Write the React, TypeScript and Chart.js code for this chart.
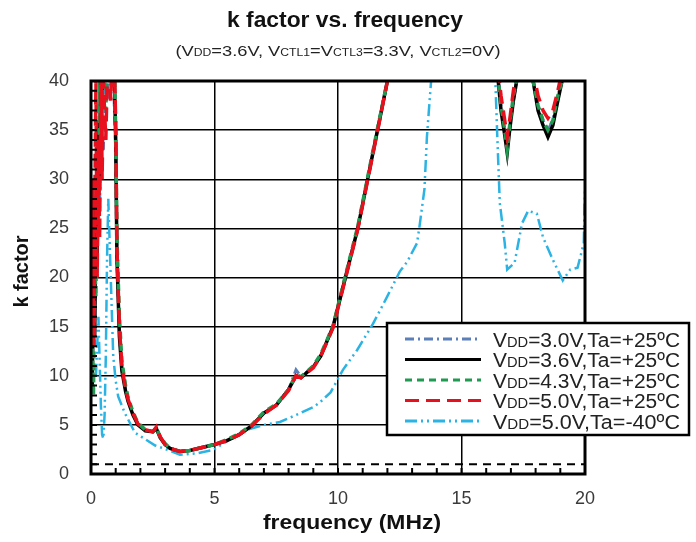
import React, { useEffect, useRef } from "react";
import { Chart, registerables } from "chart.js";
Chart.register(...registerables);

const FONT = "'Liberation Sans', Arial, sans-serif";

const xTickStep = 5;
const yTickStep = 5;

// VDD=3.0V, Ta=+25C
const f30 = [0.05, 0.1, 0.15, 0.2, 0.25, 0.3, 0.35, 0.4, 0.5, 0.6, 0.7, 0.8, 0.9, 1.0, 1.05, 1.15, 1.25, 1.4, 1.5, 1.7, 1.9, 2.2, 2.5, 2.65, 2.8, 3.0, 3.2, 3.6, 4.0, 4.5, 5.0, 5.5, 6.0, 6.5, 7.0, 7.5, 8.0, 8.3, 8.5, 9.0, 9.3, 9.55, 9.8, 10.3, 10.8, 11.2, 11.6, 12.0, 12.3, 14.5, 16.45, 16.6, 16.75, 16.85, 16.95, 17.1, 17.3, 17.6, 17.9, 18.1, 18.3, 18.5, 18.7, 18.9, 19.07, 19.4];
const k30 = [12, 24, 16, 30, 20, 35, 27, 42, 33, 45, 38, 46, 41, 33, 22, 14.5, 10.8, 8.6, 7.5, 6.1, 5.1, 4.5, 4.3, 4.6, 3.8, 3.0, 2.6, 2.3, 2.4, 2.7, 3.0, 3.4, 4.0, 4.9, 6.2, 7.0, 8.6, 10.6, 9.9, 10.9, 12, 13.5, 15, 20, 25, 30, 35, 40, 44, 90, 41, 37.5, 35, 33.5, 35.5, 38, 41, 46, 40, 37.5, 36, 35, 36, 38.5, 40, 46];

// VDD=3.6V, Ta=+25C
const f36 = [0.05, 0.1, 0.15, 0.2, 0.25, 0.3, 0.35, 0.4, 0.45, 0.5, 0.6, 0.7, 0.8, 0.9, 1.0, 1.05, 1.15, 1.25, 1.4, 1.5, 1.7, 1.9, 2.2, 2.5, 2.65, 2.8, 3.0, 3.2, 3.6, 4.0, 4.5, 5.0, 5.5, 6.0, 6.5, 7.0, 7.5, 8.0, 8.3, 8.5, 9.0, 9.3, 9.55, 9.8, 10.3, 10.8, 11.2, 11.6, 12.0, 12.3, 14.5, 16.45, 16.6, 16.75, 16.85, 16.95, 17.1, 17.3, 17.6, 17.9, 18.1, 18.3, 18.5, 18.7, 18.9, 19.07, 19.4];
const k36 = [9, 20, 14, 28, 22, 36, 30, 44, 38, 47, 40, 48, 44, 46, 34, 22, 14, 10.5, 8.4, 7.4, 6, 5, 4.4, 4.3, 4.6, 3.7, 3.0, 2.6, 2.3, 2.4, 2.7, 3.0, 3.4, 4.0, 4.9, 6.2, 7.0, 8.6, 10.0, 9.8, 10.9, 12, 13.5, 15, 20, 25, 30, 35, 40, 44, 90, 41, 37, 34.5, 32.7, 35, 38, 41, 46, 40, 37, 35.5, 34.3, 35.5, 38, 40, 46];

// VDD=4.3V, Ta=+25C
const f43 = [0.05, 0.1, 0.15, 0.2, 0.25, 0.3, 0.35, 0.4, 0.5, 0.6, 0.7, 0.8, 0.9, 1.0, 1.05, 1.15, 1.25, 1.4, 1.5, 1.7, 1.9, 2.2, 2.5, 2.65, 2.8, 3.0, 3.2, 3.6, 4.0, 4.5, 5.0, 5.5, 6.0, 6.5, 7.0, 7.5, 8.0, 8.3, 8.5, 9.0, 9.3, 9.55, 9.8, 10.3, 10.8, 11.2, 11.6, 12.0, 12.3, 14.5, 16.45, 16.6, 16.75, 16.85, 16.95, 17.1, 17.3, 17.6, 17.9, 18.1, 18.3, 18.5, 18.7, 18.9, 19.07, 19.4];
const k43 = [14, 8, 22, 18, 32, 26, 40, 34, 44, 37, 46, 40, 47, 35, 24, 16, 11.5, 9, 7.8, 6.3, 5.2, 4.5, 4.3, 4.7, 3.8, 3.1, 2.6, 2.3, 2.4, 2.7, 3.0, 3.5, 4.1, 5.0, 6.3, 7.1, 8.6, 10.1, 9.9, 11.0, 12.2, 13.6, 15.1, 20.2, 25.2, 30.2, 35.2, 40, 44, 90, 41, 37.5, 35, 33, 35.5, 38.5, 41, 46, 40, 37.5, 36, 35, 36, 38.5, 40, 46];

// VDD=5.0V, Ta=+25C
const f50 = [0.05, 0.08, 0.12, 0.15, 0.2, 0.25, 0.3, 0.35, 0.4, 0.45, 0.5, 0.6, 0.7, 0.8, 0.9, 1.0, 1.05, 1.15, 1.25, 1.4, 1.5, 1.7, 1.9, 2.2, 2.5, 2.65, 2.8, 3.0, 3.2, 3.6, 4.0, 4.5, 5.0, 5.5, 6.0, 6.5, 7.0, 7.5, 8.0, 8.3, 8.5, 9.0, 9.3, 9.55, 9.8, 10.3, 10.8, 11.2, 11.6, 12.0, 12.3, 14.5, 16.45, 16.6, 16.75, 16.85, 16.95, 17.1, 17.3, 17.6, 17.9, 18.1, 18.3, 18.5, 18.7, 18.9, 19.07, 19.4];
const k50 = [16, 30, 13, 26, 40, 20, 34, 24, 44, 30, 40, 34, 45, 38, 46, 36, 23, 15, 11, 8.6, 7.6, 6.2, 5.1, 4.5, 4.3, 4.8, 3.8, 3.0, 2.6, 2.3, 2.4, 2.7, 3.0, 3.4, 4.0, 4.9, 6.1, 7.0, 8.5, 10.0, 9.8, 10.8, 12, 13.4, 14.9, 19.9, 24.9, 29.9, 34.9, 40, 44, 90, 42, 38.5, 36, 34.3, 36, 39, 42, 46, 41, 38.5, 37, 36.2, 37, 39, 41, 46];

// VDD=5.0V, Ta=-40C
const fM40 = [0.2, 0.3, 0.4, 0.45, 0.5, 0.55, 0.6, 0.65, 0.7, 0.8, 0.9, 1.0, 1.1, 1.37, 1.78, 2.1, 2.6, 3.1, 3.6, 4.3, 4.95, 5.6, 6.3, 7.0, 7.65, 8.3, 9.0, 9.27, 9.7, 10.2, 10.77, 11.42, 11.98, 12.5, 12.8, 13.2, 13.3, 13.5, 13.6, 13.7, 13.8, 15.0, 16.3, 16.45, 16.55, 16.75, 16.85, 17.15, 17.45, 17.7, 18.05, 18.3, 18.7, 19.1, 19.4, 19.7, 19.95, 20.0];
const kM40 = [10, 16, 7, 4, 3.6, 6, 12, 22, 28, 20, 12, 9.5, 7.9, 6.2, 4.2, 3.7, 2.9, 2.45, 1.95, 2.1, 2.45, 3.5, 4.5, 5.0, 5.3, 6.0, 6.8, 7.3, 8.3, 10.6, 12.6, 15.3, 18, 20.6, 21.6, 23.5, 25.2, 29, 34.3, 37.7, 41, 80, 45, 34.3, 27.6, 23.5, 20.8, 21.5, 25.5, 26.8, 26.5, 24.1, 21.8, 19.7, 20.8, 21, 23.5, 29];

// reference k = 1
const fRef = [0, 20];
const kRef = [1, 1];

const seriesNames = ["=3.0V,Ta=+25ºC", "=3.6V,Ta=+25ºC", "=4.3V,Ta=+25ºC", "=5.0V,Ta=+25ºC", "=5.0V,Ta=-40ºC"];
const seriesColors = ["#5b7fb8", "#000000", "#1f9a50", "#e8101c", "#2bb3e3"];
const seriesDashes = [[9, 4, 2, 4], [], [7, 5], [14, 7], [12, 4, 2, 4, 2, 4]];
const seriesWidths = [3, 3.5, 3.5, 3.5, 2.5];
const seriesF = [f30, f36, f43, f50, fM40];
const seriesK = [k30, k36, k43, k50, kM40];
const drawOrder = [3, 2, 1, 0, 4];

function pts(fs: number[], ks: number[]) {
  return fs.map((f, i) => ({ x: f, y: ks[i] }));
}

function drawRich(ctx: CanvasRenderingContext2D, parts: [string, number][], x: number, y: number, align: string, weight: string, target?: number) {
  const widths = parts.map(([t, s]) => {
    ctx.font = `${weight} ${s}px ${FONT}`;
    return ctx.measureText(t).width;
  });
  const total = widths.reduce((a, b) => a + b, 0);
  const sx = target ? target / total : 1;
  ctx.save();
  ctx.translate(x, y);
  ctx.scale(sx, 1);
  let cx = align === "center" ? -total / 2 : 0;
  ctx.textAlign = "left";
  ctx.textBaseline = "alphabetic";
  parts.forEach(([t, s], i) => {
    ctx.font = `${weight} ${s}px ${FONT}`;
    ctx.fillText(t, cx, 0);
    cx += widths[i];
  });
  ctx.restore();
}

const decor = {
  id: "decor",
  afterDraw(chart: any) {
    const { ctx, chartArea: a, scales } = chart;
    const xs = scales.x, ys = scales.y;
    ctx.save();
    ctx.strokeStyle = "#000";
    ctx.setLineDash([]);
    ctx.lineWidth = 2;
    ctx.beginPath();
    for (let v = 1; v < 20; v++) {
      const px = xs.getPixelForValue(v);
      ctx.moveTo(px, a.bottom);
      ctx.lineTo(px, a.bottom - 6);
    }
    for (let v = 1; v < 40; v++) {
      const py = ys.getPixelForValue(v);
      ctx.moveTo(a.left, py);
      ctx.lineTo(a.left + 6, py);
    }
    ctx.stroke();
    ctx.lineWidth = 3;
    ctx.strokeRect(a.left, a.top, a.right - a.left, a.bottom - a.top);

    // legend
    const lx = 387, ly = 323, lw = 302, lh = 112;
    ctx.fillStyle = "#fff";
    ctx.fillRect(lx, ly, lw, lh);
    ctx.lineWidth = 2.5;
    ctx.strokeRect(lx, ly, lw, lh);
    for (let i = 0; i < 5; i++) {
      const yy = 339 + i * 20.5;
      ctx.save();
      ctx.strokeStyle = seriesColors[i];
      ctx.lineWidth = 3;
      ctx.setLineDash(seriesDashes[i]);
      ctx.beginPath();
      ctx.moveTo(405, yy);
      ctx.lineTo(481, yy);
      ctx.stroke();
      ctx.restore();
      ctx.fillStyle = "#222";
      drawRich(ctx, [["V", 20], ["DD", 14], [seriesNames[i], 20]], 493, yy + 7.5, "left", "normal", 187);
    }

    // titles
    const cxp = (a.left + a.right) / 2;
    ctx.fillStyle = "#111";
    drawRich(ctx, [["k factor vs. frequency", 22]], cxp + 7, 27, "center", "bold", 236);
    ctx.fillStyle = "#222";
    drawRich(ctx, [["(V", 15], ["DD", 10], ["=3.6V, V", 15], ["CTL1", 10], ["=V", 15], ["CTL3", 10], ["=3.3V, V", 15], ["CTL2", 10], ["=0V)", 15]], cxp, 56, "center", "normal", 325);
    ctx.fillStyle = "#111";
    drawRich(ctx, [["frequency (MHz)", 20]], cxp + 14, 529, "center", "bold", 178);
    ctx.save();
    ctx.translate(28, (a.top + a.bottom) / 2 - 6);
    ctx.rotate(-Math.PI / 2);
    drawRich(ctx, [["k factor", 20]], 0, 0, "center", "bold", 72);
    ctx.restore();
    ctx.restore();
  },
};

export default function App() {
  const ref = useRef<HTMLCanvasElement | null>(null);
  useEffect(() => {
    document.body.style.margin = "0";
    const datasets: any[] = seriesNames.map((n, i) => ({
      label: "VDD" + n,
      data: pts(seriesF[i], seriesK[i]),
      borderColor: seriesColors[i],
      borderDash: seriesDashes[i],
      borderWidth: seriesWidths[i],
      pointRadius: 0,
      tension: 0,
      fill: false,
      order: drawOrder[i],
    }));
    datasets.push({
      label: "ref",
      data: pts(fRef, kRef),
      borderColor: "#000",
      borderDash: [8, 6],
      borderWidth: 2,
      pointRadius: 0,
      order: 5,
    });
    const chart = new Chart(ref.current as HTMLCanvasElement, {
      type: "line",
      data: { datasets },
      plugins: [decor],
      options: {
        animation: false,
        responsive: false,
        devicePixelRatio: 1,
        layout: { padding: { top: 81, right: 111, left: 0, bottom: 0 } },
        plugins: { legend: { display: false }, tooltip: { enabled: false }, title: { display: false } },
        scales: {
          x: {
            type: "linear",
            min: 0,
            max: 20,
            afterFit: (s: any) => { s.height = 68; },
            ticks: { stepSize: xTickStep, padding: 14, color: "#3a3a3a", font: { size: 18, family: FONT } },
            grid: { color: "#000", lineWidth: 1.5, drawTicks: false },
            border: { display: false },
          },
          y: {
            type: "linear",
            min: 0,
            max: 40,
            afterFit: (s: any) => { s.width = 91; },
            ticks: { stepSize: yTickStep, padding: 22, color: "#3a3a3a", font: { size: 18, family: FONT } },
            grid: { color: "#000", lineWidth: 1.5, drawTicks: false },
            border: { display: false },
          },
        },
      },
    });
    return () => chart.destroy();
  }, []);
  return <canvas ref={ref} width={696} height={542} style={{ display: "block" }} />;
}
